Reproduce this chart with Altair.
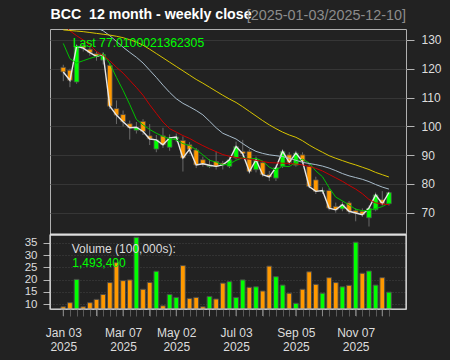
import altair as alt
import pandas as pd

# ---------------- data (weekly bars, index 0..49) ----------------
open_ = [120.5, 119.5, 115.4, 128.0, 126.8, 125.2, 123.0, 121.2, 106.2, 104.1,
         100.9, 98.6, 101.7, 96.7, 92.1, 96.7, 92.7, 95.6, 95.1, 93.6,
         91.8, 88.4, 86.0, 87.8, 87.2, 86.1, 89.0, 91.3, 91.3, 84.9,
         87.4, 83.2, 82.0, 86.1, 90.1, 86.5, 90.1, 86.1, 81.4, 77.3,
         77.7, 72.2, 71.3, 73.4, 70.7, 70.5, 68.2, 71.0, 74.5, 73.1]
high = [121.4, 120.0, 128.5, 128.8, 127.5, 126.0, 125.8, 122.0, 109.0, 105.5,
        102.0, 101.5, 102.5, 100.8, 97.0, 99.5, 97.2, 97.5, 96.5, 94.5,
        92.5, 89.5, 88.5, 91.3, 88.0, 89.5, 94.7, 95.3, 92.0, 89.5,
        88.0, 84.5, 86.5, 92.0, 91.0, 91.5, 91.0, 87.0, 82.5, 78.8,
        78.5, 73.5, 73.8, 74.0, 71.5, 71.5, 72.5, 77.0, 77.5, 77.3]
low = [115.7, 113.6, 114.8, 126.0, 124.5, 122.8, 121.5, 106.0, 100.8, 100.0,
       95.4, 97.5, 97.0, 93.5, 91.0, 92.5, 91.5, 94.5, 84.3, 90.5,
       85.5, 86.0, 85.5, 85.0, 85.0, 85.5, 88.5, 89.5, 83.5, 84.0,
       82.5, 81.0, 81.0, 85.5, 86.5, 86.0, 86.5, 78.5, 76.5, 76.5,
       70.8, 70.0, 70.5, 69.5, 67.0, 68.5, 65.2, 70.5, 72.5, 72.5]
close = [118.9, 116.0, 127.8, 127.2, 125.6, 124.3, 125.0, 107.0, 103.9, 101.6,
         99.5, 99.7, 98.2, 95.6, 95.3, 93.6, 96.0, 96.3, 89.0, 92.0,
         86.6, 87.0, 86.5, 86.1, 86.6, 88.4, 93.0, 90.5, 84.3, 88.4,
         83.2, 82.4, 85.7, 91.3, 87.5, 90.7, 87.8, 79.1, 77.4, 77.7,
         71.6, 71.0, 72.8, 70.5, 69.9, 69.3, 71.6, 76.2, 73.1, 77.0100021362305]
volume = [9.0, 10.65, 20.1, 9.0, 10.65, 12.0, 14.0, 18.8, 26.9, 19.6,
          19.9, 37.2, 16.1, 18.9, 23.4, 9.4, 14.0, 12.8, 25.7, 12.4,
          12.8, 9.0, 13.2, 12.15, 18.6, 19.2, 12.8, 19.9, 16.9, 17.1,
          15.4, 25.5, 21.2, 17.8, 14.5, 10.4, 16.1, 23.2, 18.1, 14.5,
          20.8, 18.8, 17.1, 17.7, 35.2, 22.6, 23.5, 17.8, 20.8, 14.934]
vol_dir = ["down", "down", "up", "down", "down", "down", "down", "down", "down", "down",
           "down", "up", "down", "down", "up", "down", "up", "up", "down", "down",
           "down", "down", "up", "down", "down", "up", "up", "up", "down", "up",
           "down", "down", "up", "up", "down", "up", "down", "down", "down", "up",
           "down", "down", "up", "down", "up", "down", "up", "up", "down", "up"]
ma_green = [128.8, 123.5, 122.0, 122.8, 123.6, 124.3, 125.2, 121.8, 117.0, 112.5,
            107.6, 102.4, 100.5, 98.9, 97.6, 96.5, 95.7, 95.3, 94.0, 93.3,
            91.9, 90.1, 88.2, 87.6, 86.6, 86.9, 88.2, 89.1, 88.7, 88.9,
            87.9, 85.8, 84.8, 86.2, 86.0, 87.5, 88.6, 87.3, 84.5, 82.5,
            78.7, 75.4, 74.1, 72.7, 71.2, 70.7, 70.8, 71.5, 72.1, 73.4]
ma_red = [135.5, 133.2, 131.5, 130.0, 128.2, 126.0, 124.6, 122.8, 120.5, 118.5,
          116.0, 113.5, 110.8, 107.5, 104.5, 101.5, 99.2, 98.0, 96.8, 95.8,
          94.5, 93.3, 92.2, 91.2, 90.2, 89.6, 89.2, 88.9, 88.6, 88.2,
          87.8, 87.4, 87.3, 87.2, 87.1, 86.9, 86.6, 86.1, 85.4, 84.5,
          83.3, 82.1, 80.9, 79.5, 78.2, 76.6, 74.6, 73.4, 73.0, 72.8]
ma_gray = [140.0, 139.0, 138.0, 137.0, 135.5, 134.2, 133.2, 131.5, 129.5, 127.5,
           125.7, 124.0, 122.0, 119.5, 117.0, 114.3, 111.8, 109.6, 108.0, 106.8,
           105.5, 104.0, 101.8, 99.5, 97.6, 96.6, 95.6, 94.0, 92.5, 91.3,
           90.6, 90.1, 89.8, 89.5, 88.9, 88.2, 87.5, 87.1, 86.7, 86.2,
           85.5, 84.6, 83.6, 82.8, 82.2, 81.6, 80.8, 79.8, 78.9, 78.2]
ma_yellow = [133.5, 133.3, 133.1, 132.9, 132.6, 132.3, 132.0, 131.7, 131.3, 130.8,
             130.1, 129.3, 128.2, 126.8, 125.3, 123.8, 122.3, 120.8, 119.3, 117.8,
             116.3, 115.0, 113.6, 112.2, 110.8, 109.5, 108.3, 106.8, 105.2, 103.6,
             102.0, 100.5, 99.2, 98.0, 97.0, 96.2, 95.0, 93.5, 92.2, 91.0,
             89.8, 88.9, 88.1, 87.3, 86.6, 85.8, 85.0, 84.0, 83.2, 82.4]

tick_idx = [0, 9, 17, 26, 35, 44]
tick_text = ["Jan 03", "Mar 07", "May 02", "Jul 03", "Sep 05", "Nov 07"]
tick_year = ["2025"] * 6
month_idx = [0, 5, 9, 13, 17, 22, 26, 30, 35, 39, 44, 48]
price_ticks = [70, 80, 90, 100, 110, 120, 130]
vol_ticks = [10, 15, 20, 25, 30, 35]

TITLE = "BCC\u00a0 12 month - weekly close"
RANGE = "[2025-01-03/2025-12-10]"

# ---------------- layout constants ----------------
W, H = 356, 280
MAIN_H = 206
PRICE_DOM = [62.25, 133.82]
VOL_DOM = [8.09, 38.12]
X_DOM = [-2.0, 51.57]
UP, DOWN = "#00ff00", "#ff9900"
FONT = "Liberation Sans"

n = len(close)
df = pd.DataFrame({
    "i": list(range(n)), "open": open_, "high": high, "low": low, "close": close,
    "volume": volume, "vdir": vol_dir,
    "g": ma_green, "r": ma_red, "s": ma_gray, "yl": ma_yellow,
})
df["dir"] = ["up" if c >= o else "down" for o, c in zip(open_, close)]
df["vbase"] = VOL_DOM[0]
mdf = pd.DataFrame({"i": month_idx})

label_expr = " : ".join(
    f"datum.value == {i} ? ['{t}', '{y}']" for i, t, y in zip(tick_idx, tick_text, tick_year)
) + " : ''"

xenc = alt.X("i:Q", scale=alt.Scale(domain=X_DOM, nice=False, zero=False, padding=0),
             axis=alt.Axis(values=list(range(n)), labelExpr=label_expr, tickSize=7,
                           tickColor="#5a5a5a", labelColor="#dddddd", labelFontSize=12,
                           labelFont=FONT, labelPadding=11, labelLineHeight=14,
                           labelOverlap=False, labelFlush=False, domain=False,
                           grid=False, title=None))

pscale = alt.Scale(domain=PRICE_DOM, range=[MAIN_H, 0], nice=False, zero=False)
paxis = alt.Axis(orient="right", values=price_ticks, tickSize=8, tickColor="#b5b5b5",
                 labelColor="#dddddd", labelFontSize=12, labelFont=FONT, labelPadding=7,
                 domain=False, grid=True, gridColor="#363636", title=None)

def py(field):
    return alt.Y(f"{field}:Q", scale=pscale, axis=paxis)

base = alt.Chart(df)
color_scale = alt.Scale(domain=["up", "down"], range=[UP, DOWN])

wicks = base.mark_rule(color="#6a6a6a", strokeWidth=1).encode(
    x=xenc, y=py("low"), y2="high:Q")
bodies = base.mark_bar(width=4.8, stroke="#4a4a4a", strokeWidth=0.8).encode(
    x=xenc, y=py("open"), y2="close:Q",
    color=alt.Color("dir:N", scale=color_scale, legend=None))
close_line = base.mark_line(color="#e6e6e6", strokeWidth=1.4, clip=True).encode(x=xenc, y=py("close"))
g_line = base.mark_line(color="#00c000", strokeWidth=1, clip=True).encode(x=xenc, y=py("g"))
r_line = base.mark_line(color="#c80000", strokeWidth=1, clip=True).encode(x=xenc, y=py("r"))
s_line = base.mark_line(color="#a8bccb", strokeWidth=1, clip=True).encode(x=xenc, y=py("s"))
y_line = base.mark_line(color="#d8c400", strokeWidth=1, clip=True).encode(x=xenc, y=py("yl"))

price = alt.layer(wicks, bodies, close_line, g_line, r_line, s_line, y_line)

vscale = alt.Scale(domain=VOL_DOM, range=[H, MAIN_H], nice=False, zero=False)
vaxis = alt.Axis(orient="left", values=vol_ticks, tickSize=7, tickColor="#b5b5b5",
                 labelColor="#dddddd", labelFontSize=11.5, labelFont=FONT, labelPadding=6,
                 domain=False, grid=True, gridColor="#454545", gridDash=[1, 2], title=None)
vbars = base.mark_bar(width=4.8, stroke="#4a4a4a", strokeWidth=1).encode(
    x=xenc, y=alt.Y("volume:Q", scale=vscale, axis=vaxis), y2="vbase:Q",
    color=alt.Color("vdir:N", scale=color_scale, legend=None))

mticks = alt.Chart(mdf).mark_rule(color="#8a8a8a", strokeWidth=1).encode(
    x=xenc, y=alt.value(H), y2=alt.value(H + 7))

one = pd.DataFrame({"k": [0]})
sep = alt.Chart(one).mark_rule(color="#e0e0e0", strokeWidth=2).encode(
    x=alt.value(0), x2=alt.value(W), y=alt.value(MAIN_H - 0.5))
vframe = alt.Chart(one).mark_rect(fill=None, stroke="#dcdcdc", strokeWidth=1.2).encode(
    x=alt.value(0), x2=alt.value(W), y=alt.value(MAIN_H), y2=alt.value(H))

def txt(s, x, y, color, size, weight="normal", align="left"):
    return alt.Chart(one).mark_text(text=s, color=color, fontSize=size, font=FONT,
                                    fontWeight=weight, align=align, baseline="alphabetic").encode(
        x=alt.value(x), y=alt.value(y))

t_title = txt(TITLE, 0.5, -9.7, "#ffffff", 14.2, "bold")
t_range = txt(RANGE, W, -9.5, "#8c8c8c", 14.4, align="right")
t_last = txt(f"Last {close[-1]}", 22.7, 17.7, "#00ff00", 12.2)
t_vol = txt("Volume (100,000s):", 21.7, 223.5, "#dddddd", 12)
t_volv = txt(f"{int(round(volume[-1] * 100000)):,}", 22.3, 237.7, "#00ff00", 12)

chart = alt.layer(
    price, vbars, mticks, sep, vframe, t_title, t_range, t_last, t_vol, t_volv
).resolve_scale(y="independent").resolve_axis(y="independent").properties(
    width=W, height=H,
    padding={"left": 50, "top": 29, "right": 44, "bottom": 51},
    autosize=alt.AutoSizeParams(type="none"),
    background="#222222",
).configure_view(stroke="#b0b0b0", strokeWidth=1)

chart.save("out.html", embed_options={"renderer": "svg", "actions": False})
